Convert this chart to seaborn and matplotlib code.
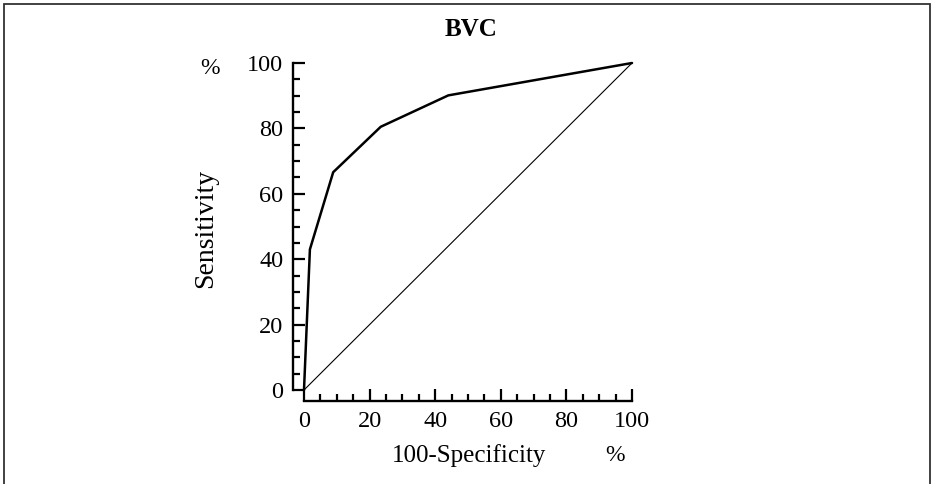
import matplotlib
matplotlib.use("Agg")
import matplotlib.pyplot as plt
import seaborn as sns
import pandas as pd
from matplotlib.patches import Rectangle
from matplotlib.ticker import MultipleLocator

# ROC points (100-specificity vs sensitivity, %)
fpr = [0, 1.8, 8.9, 23.4, 44.0, 100]
tpr = [0, 43.0, 66.6, 80.5, 90.1, 100]
diag = [0, 100]
ticks = [0, 20, 40, 60, 80, 100]

roc = pd.DataFrame({"fpr": fpr, "tpr": tpr})
ref = pd.DataFrame({"x": diag, "y": diag})

sns.set_theme(style="ticks")
plt.rcParams["font.family"] = ["Liberation Serif", "DejaVu Serif"]
plt.rcParams["text.color"] = "black"
plt.rcParams["axes.labelcolor"] = "black"

fig = plt.figure(figsize=(9.31, 4.84), dpi=100)
ax = fig.add_axes([304 / 931, 1 - 390 / 484, 328 / 931, 327 / 484])

sns.lineplot(data=ref, x="x", y="y", sort=False, estimator=None,
             color="black", linewidth=0.8, clip_on=False, ax=ax)
sns.lineplot(data=roc, x="fpr", y="tpr", sort=False, estimator=None,
             color="black", linewidth=1.8, clip_on=False, ax=ax)

ax.set_xlim(0, 100)
ax.set_ylim(0, 100)
ax.set_xticks(ticks)
ax.set_yticks(ticks)
ax.xaxis.set_minor_locator(MultipleLocator(5))
ax.yaxis.set_minor_locator(MultipleLocator(5))
ax.tick_params(which="both", direction="in", width=1.6, colors="black",
               labelsize=17.5, pad=7)
ax.tick_params(which="major", length=8.5)
ax.tick_params(which="minor", length=5)
sns.despine(ax=ax, offset=8)
for s in ["left", "bottom"]:
    ax.spines[s].set_linewidth(1.7)
    ax.spines[s].set_color("black")

ax.set_xlabel("100-Specificity", fontsize=18, va="center")
ax.xaxis.set_label_coords(0.5046, -0.2018)
ax.set_ylabel("Sensitivity", fontsize=20, va="center")
ax.yaxis.set_label_coords(-0.299, 0.4954)
ax.text(0.948, -0.2018, "%", transform=ax.transAxes, fontsize=17,
        ha="center", va="center")
ax.text(-0.2866, 0.9847, "%", transform=ax.transAxes, fontsize=17,
        ha="center", va="center")
ax.set_title("BVC", fontsize=18, fontweight="bold", x=0.509, y=1.101,
             va="center", pad=0)

fig.patches.append(Rectangle((3.5 / 931, -0.05), 926 / 931, 1.0417,
                             transform=fig.transFigure, fill=False,
                             linewidth=1.3, edgecolor="#333333"))

fig.savefig("out.png", dpi=100)
